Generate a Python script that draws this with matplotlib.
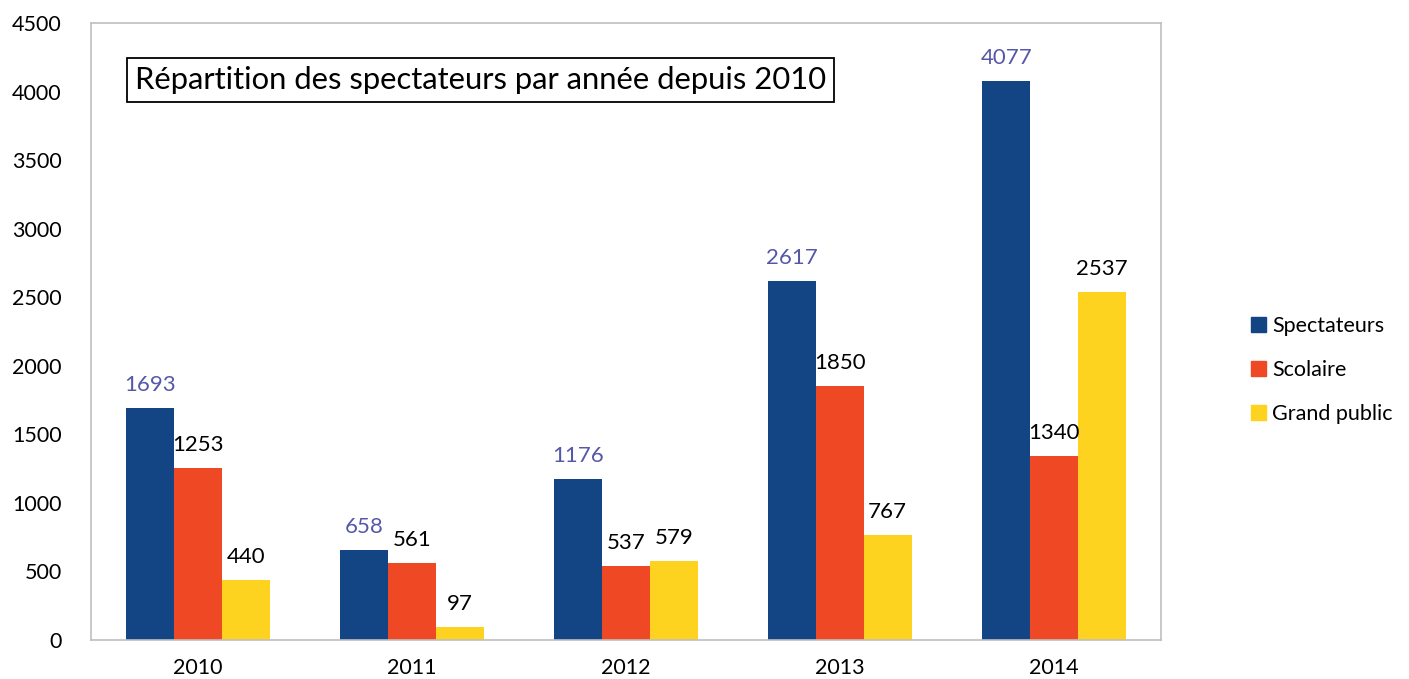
import matplotlib.pyplot as plt
import numpy as np
from matplotlib.patches import Patch

plt.rcParams['font.family'] = ['Lato', 'DejaVu Sans']

years = ['2010', '2011', '2012', '2013', '2014']
spectateurs = [1693, 658, 1176, 2617, 4077]
scolaire = [1253, 561, 537, 1850, 1340]
grand_public = [440, 97, 579, 767, 2537]
series_names = ['Spectateurs', 'Scolaire', 'Grand public']

colors = ['#134584', '#EF4824', '#FDD31F']
label_colors = ['#5558A8', 'black', 'black']

fig = plt.figure(figsize=(14.09, 6.79), dpi=100)
ax = fig.add_axes([0.0646, 0.0574, 0.7594, 0.9086])

x = np.arange(len(years))
w = 0.223
for i, vals in enumerate([spectateurs, scolaire, grand_public]):
    pos = x + (i - 1) * w
    ax.bar(pos, vals, width=w, color=colors[i], label=series_names[i])
    for px, v in zip(pos, vals):
        ax.text(px, v + 95, str(v), ha='center', va='bottom',
                fontsize=16, color=label_colors[i])

ax.set_xlim(-0.5, 4.5)
ax.set_ylim(0, 4500)
ax.set_yticks(range(0, 4501, 500))
ax.set_xticks(x)
ax.set_xticklabels(years)
ax.tick_params(length=0, labelsize=15.5)
ax.tick_params(axis='y', pad=21)
ax.tick_params(axis='x', pad=13)
for s in ax.spines.values():
    s.set_color('#BFBFBF')
    s.set_linewidth(1.2)

ax.text(0.041, 0.908, 'Répartition des spectateurs par année depuis 2010',
        transform=ax.transAxes, fontsize=22.3, va='center', ha='left',
        bbox=dict(boxstyle='square,pad=0.25', fc='white', ec='black', lw=1.3))

handles = [Patch(color=c) for c in colors]
fig.legend(handles, series_names, loc='center left', bbox_to_anchor=(0.874, 0.455),
           frameon=False, fontsize=15.5, handlelength=0.7, handleheight=0.7,
           handletextpad=0.3, labelspacing=1.1)

fig.savefig('out.png', dpi=100)
